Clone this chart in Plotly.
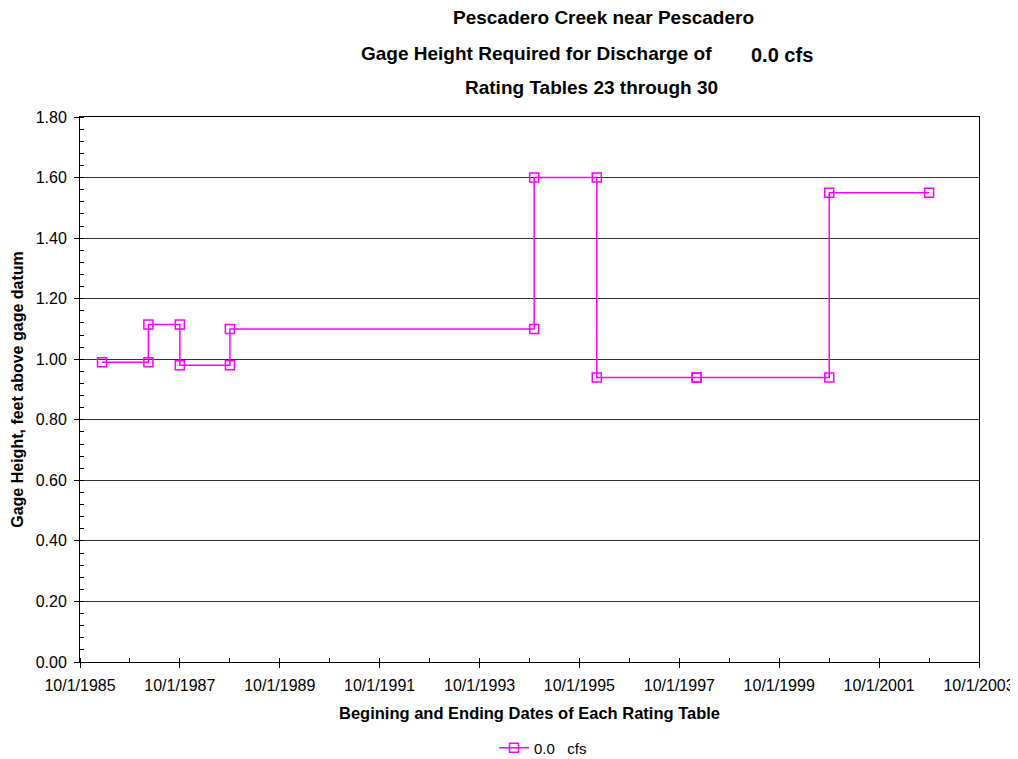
import plotly.graph_objects as go

# begin / end dates of rating tables 23-30 and the gage height for 0.0 cfs
dates = ["1986-03-11", "1987-02-13",
         "1987-02-13", "1987-10-01",
         "1987-10-01", "1988-10-01",
         "1988-10-01", "1994-11-04",
         "1994-11-04", "1996-02-05",
         "1996-02-05", "1998-02-04",
         "1998-02-04", "2000-10-01",
         "2000-10-01", "2002-10-01"]
gage_ht = [0.99, 0.99,
           1.115, 1.115,
           0.98, 0.98,
           1.10, 1.10,
           1.60, 1.60,
           0.94, 0.94,
           0.94, 0.94,
           1.55, 1.55]

tick_dates = ["1985-10-01", "1987-10-01", "1989-10-01", "1991-10-01", "1993-10-01",
              "1995-10-01", "1997-10-01", "1999-10-01", "2001-10-01", "2003-10-01"]
tick_text = ["10/1/1985", "10/1/1987", "10/1/1989", "10/1/1991", "10/1/1993",
             "10/1/1995", "10/1/1997", "10/1/1999", "10/1/2001", "10/1/2003"]

font = "Liberation Sans, Arial, sans-serif"
magenta = "#FF00FF"

trace = go.Scatter(
    x=dates, y=gage_ht, mode="lines+markers", name="0.0   cfs",
    line=dict(color=magenta, width=1.5),
    marker=dict(symbol="square-open", size=9, color=magenta, line=dict(width=1.5, color=magenta)),
)

# the page body has an 8px margin, so the figure sits at (8, 8) in the window;
# make it 8px smaller each way so it does not overflow the window
off = 8
left, right, top, bottom = 80, 979, 117, 662   # wanted plot box in window pixels
W, H = 1018 - off, 759 - off

layout = go.Layout(
    width=W, height=H,
    margin=dict(l=left - off, r=W - (right - off), t=top - off, b=H - (bottom - off)),
    plot_bgcolor="white", paper_bgcolor="white",
    font=dict(family=font, size=16, color="black"),
    showlegend=True,
    legend=dict(orientation="h", x=(543 - left) / (right - left), xanchor="center",
                yref="container", y=1 - (748 - off) / H, yanchor="middle",
                font=dict(size=15), bgcolor="rgba(0,0,0,0)"),
    xaxis=dict(
        type="date", range=["1985-10-01", "2003-10-01"], automargin=False,
        tickvals=tick_dates, ticktext=tick_text,
        ticks="outside", ticklen=5, tickcolor="black", ticklabelstandoff=4,
        minor=dict(ticks="inside", ticklen=4, tickcolor="black", dtick="M12", tick0="1985-10-01"),
        showline=True, linecolor="black", linewidth=1, mirror=True,
        showgrid=False, zeroline=False,
        title=dict(text="<b>Begining and Ending Dates of Each Rating Table</b>",
                   font=dict(size=16.5), standoff=14),
    ),
    yaxis=dict(
        range=[0, 1.8], dtick=0.2, tick0=0, tickformat=".2f", automargin=False,
        ticks="outside", ticklen=5, tickcolor="black", ticklabelstandoff=4,
        minor=dict(ticks="inside", ticklen=4, tickcolor="black", dtick=0.04, showgrid=False),
        showline=True, linecolor="black", linewidth=1, mirror=True,
        showgrid=True, gridcolor="#333333", gridwidth=1, zeroline=False,
        title=dict(text="<b>Gage Height, feet above gage datum</b>", font=dict(size=16), standoff=8),
    ),
)

# title lines, positions in window pixels (x centre, y centre)
titles = [("<b>Pescadero Creek near Pescadero</b>", 603, 17, 19),
          ("<b>Gage Height Required for Discharge of</b>", 536, 54, 19),
          ("<b>0.0 cfs</b>", 782, 55, 20),
          ("<b>Rating Tables 23 through 30</b>", 591, 87, 19)]
for txt, px, py, fs in titles:
    layout.annotations += (dict(text=txt, xref="paper", yref="paper",
                                x=(px - left) / (right - left), y=(bottom - py) / (bottom - top),
                                xanchor="center", yanchor="middle", showarrow=False,
                                font=dict(size=fs)),)

fig = go.Figure(data=[trace], layout=layout)
fig.write_html("out.html")
